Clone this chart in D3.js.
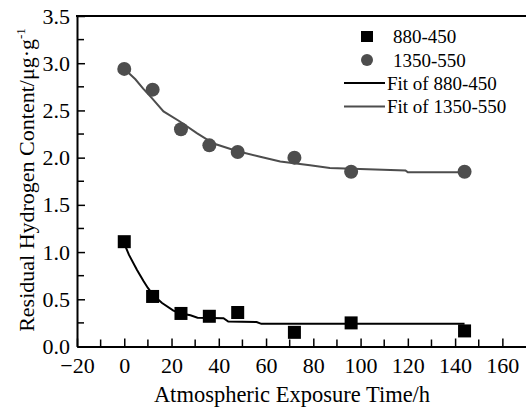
<!DOCTYPE html>
<html>
<head>
<meta charset="utf-8">
<script src="https://cdn.jsdelivr.net/npm/d3@7"></script>
<style>
  body { margin: 0; background: #fff; }
</style>
</head>
<body>
<svg></svg>
<script>
let times = [0, 12, 24, 36, 48, 72, 96, 144]
let series880 = [1.11, 0.53, 0.35, 0.32, 0.36, 0.15, 0.25, 0.165]
let series1350 = [2.94, 2.72, 2.30, 2.13, 2.06, 2.00, 1.85, 1.85]

// fit curves
let fit880X = [0, 2, 5.4, 8.2, 10, 12.4, 16, 20.8, 24, 28, 31, 42, 44, 56, 58, 144]
let fit880Y = [1.09, 0.97, 0.81, 0.69, 0.62, 0.54, 0.46, 0.38, 0.35, 0.33, 0.305, 0.30, 0.265, 0.26, 0.24, 0.24]
let fit1350X = [0.4, 4.7, 8, 11.7, 16.6, 23.7, 30.7, 37.8, 47.6, 57.5, 66, 78.6, 87, 119, 120, 144]
let fit1350Y = [2.93, 2.83, 2.73, 2.63, 2.49, 2.38, 2.26, 2.15, 2.07, 2.01, 1.96, 1.92, 1.89, 1.865, 1.845, 1.845]

let xTicks = [-20, 0, 20, 40, 60, 80, 100, 120, 140, 160]
let yTicks = [0, 0.5, 1.0, 1.5, 2.0, 2.5, 3.0, 3.5]
let legendLabels = ['880-450', '1350-550', 'Fit of 880-450', 'Fit of 1350-550']

let width = 526
let height = 414
let padLeft = 77
let padTop = 16
let axisY = 346.5
let serif = 'Liberation Serif, DejaVu Serif, serif'

let svg = d3.select('svg')
    .attr('width', width)
    .attr('height', height)
    .style('font-family', serif)

let xScale = d3.scaleLinear().domain([-20, 170]).range([padLeft, width])
let yScale = d3.scaleLinear().domain([0, 3.5]).range([axisY, padTop])

let grey = '#4d4d4d'

// minor ticks
let xMinor = d3.range(-10, 170, 20)
let yMinor = d3.range(0.25, 3.5, 0.5)

let xAxis = d3.axisBottom(xScale)
    .tickValues(xTicks)
    .tickSizeInner(-8)
    .tickSizeOuter(0)
    .tickPadding(11)
    .tickFormat(d3.format('d'))

let gx = svg.append('g')
    .attr('transform', 'translate(0,' + axisY + ')')
    .call(xAxis)
    .attr('font-family', null)
gx.select('.domain').attr('stroke-width', 2)
gx.selectAll('.tick line').attr('stroke-width', 1.5)
gx.selectAll('.tick text')
    .style('font-family', serif)
    .style('font-size', '22px')
    .attr('fill', '#000')
    .attr('dy', '0.71em')

gx.selectAll('.minor')
    .data(xMinor)
    .enter()
    .append('line')
    .attr('x1', d => xScale(d))
    .attr('x2', d => xScale(d))
    .attr('y1', 0)
    .attr('y2', -7)
    .attr('stroke', '#000')
    .attr('stroke-width', 1.5)

let yAxis = d3.axisLeft(yScale)
    .tickValues(yTicks)
    .tickSizeInner(-8)
    .tickSizeOuter(0)
    .tickPadding(7)
    .tickFormat(d3.format('.1f'))

let gy = svg.append('g')
    .attr('transform', 'translate(' + padLeft + ',0)')
    .call(yAxis)
    .attr('font-family', null)
gy.select('.domain').attr('stroke-width', 2)
gy.selectAll('.tick line').attr('stroke-width', 1.5)
gy.selectAll('.tick text')
    .style('font-family', serif)
    .style('font-size', '22px')
    .attr('fill', '#000')

gy.selectAll('.minor')
    .data(yMinor)
    .enter()
    .append('line')
    .attr('x1', 0)
    .attr('x2', 7)
    .attr('y1', d => yScale(d))
    .attr('y2', d => yScale(d))
    .attr('stroke', '#000')
    .attr('stroke-width', 1.5)

// top border
svg.append('line')
    .attr('x1', padLeft - 1)
    .attr('x2', width)
    .attr('y1', padTop)
    .attr('y2', padTop)
    .attr('stroke', '#000')
    .attr('stroke-width', 2)

// fit lines
let line = d3.line()
    .x(d => xScale(d[0]))
    .y(d => yScale(d[1]))

svg.append('path')
    .datum(d3.zip(fit880X, fit880Y))
    .attr('d', line)
    .attr('fill', 'none')
    .attr('stroke', '#000')
    .attr('stroke-width', 2)

svg.append('path')
    .datum(d3.zip(fit1350X, fit1350Y))
    .attr('d', line)
    .attr('fill', 'none')
    .attr('stroke', grey)
    .attr('stroke-width', 2)

// points
let sq = 13
svg.selectAll('.sq')
    .data(d3.zip(times, series880))
    .enter()
    .append('rect')
    .attr('x', d => xScale(d[0]) - sq / 2)
    .attr('y', d => yScale(d[1]) - sq / 2)
    .attr('width', sq)
    .attr('height', sq)
    .attr('fill', '#000')

svg.selectAll('.dot')
    .data(d3.zip(times, series1350))
    .enter()
    .append('circle')
    .attr('cx', d => xScale(d[0]))
    .attr('cy', d => yScale(d[1]))
    .attr('r', 7)
    .attr('fill', grey)

// legend
let lg = svg.append('g')
let rowY = [36.5, 60, 83, 106.5]
lg.append('rect').attr('x', 361).attr('y', rowY[0] - 5.5).attr('width', 12).attr('height', 11).attr('fill', '#000')
lg.append('circle').attr('cx', 367).attr('cy', rowY[1]).attr('r', 6).attr('fill', grey)
lg.append('line').attr('x1', 344).attr('x2', 385).attr('y1', rowY[2]).attr('y2', rowY[2]).attr('stroke', '#000').attr('stroke-width', 2)
lg.append('line').attr('x1', 344).attr('x2', 385).attr('y1', rowY[3]).attr('y2', rowY[3]).attr('stroke', grey).attr('stroke-width', 2)
lg.selectAll('text')
    .data(legendLabels)
    .enter()
    .append('text')
    .attr('x', (d, i) => i < 2 ? 393 : 387)
    .attr('y', (d, i) => rowY[i])
    .attr('dy', '0.35em')
    .style('font-family', serif)
    .style('font-size', '19px')
    .text(d => d)

// axis titles
svg.append('text')
    .attr('x', 292)
    .attr('y', 402)
    .attr('text-anchor', 'middle')
    .style('font-family', serif)
    .style('font-size', '22.5px')
    .text('Atmospheric Exposure Time/h')

let yt = svg.append('text')
    .attr('transform', 'translate(34,' + 180 + ') rotate(-90)')
    .attr('text-anchor', 'middle')
    .style('font-family', serif)
    .style('font-size', '22px')
yt.append('tspan').text('Residual Hydrogen Content/μg·g')
yt.append('tspan').attr('dy', '-9').style('font-size', '13px').text('-1')
</script>
</body>
</html>
